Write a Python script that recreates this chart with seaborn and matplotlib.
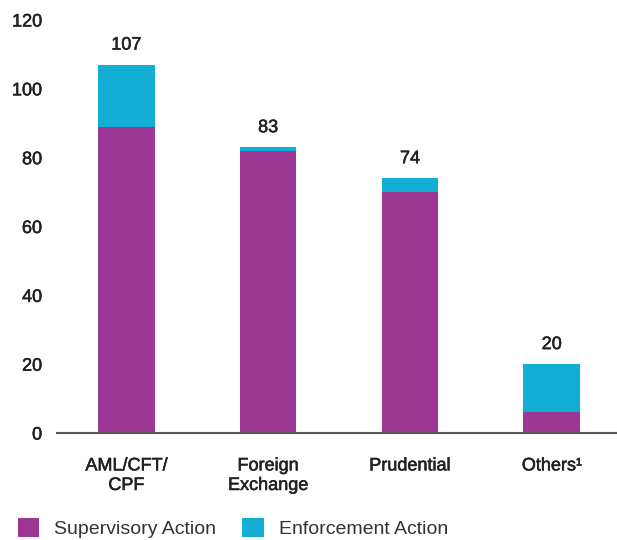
import matplotlib
matplotlib.use("Agg")
import matplotlib.pyplot as plt
import matplotlib.patheffects as pe
import seaborn as sns
import pandas as pd
from matplotlib.patches import Patch

categories = ["AML/CFT/\nCPF", "Foreign\nExchange", "Prudential", "Others\u00b9"]
supervisory = [89, 82, 70, 6]
enforcement = [18, 1, 4, 14]
totals = [s + e for s, e in zip(supervisory, enforcement)]
yticks = [0, 20, 40, 60, 80, 100, 120]

purple = "#9C3894"
cyan = "#12AED6"
txt = "#222222"

sns.set_theme(style="white")
plt.rcParams["font.family"] = ["Liberation Sans", "DejaVu Sans"]

medium = [pe.withStroke(linewidth=0.4, foreground=txt)]

df = pd.DataFrame({"category": categories, "supervisory": supervisory,
                   "enforcement": enforcement, "total": totals})

fig = plt.figure(figsize=(6.17, 5.4), dpi=100)
ax = fig.add_axes([0.092, 0.198, 0.908, 0.765])

sns.barplot(data=df, x="category", y="total", color=cyan, width=0.4,
            saturation=1, linewidth=0, ax=ax)
sns.barplot(data=df, x="category", y="supervisory", color=purple, width=0.4,
            saturation=1, linewidth=0, ax=ax)

for i, t in enumerate(totals):
    ax.text(i, t + 4.4, str(t), ha="center", va="baseline", fontsize=13,
            color=txt, path_effects=medium)

ax.set_ylim(0, 120)
ax.set_xlim(-0.49, 3.46)
ax.set_yticks(yticks)
ax.set_yticklabels([str(v) for v in yticks], fontsize=13, color=txt,
                   path_effects=medium)
ax.set_xticklabels(categories, fontsize=13, color=txt, linespacing=1.2,
                   path_effects=medium)
ax.set_xlabel("")
ax.set_ylabel("")
ax.tick_params(axis="y", length=0, pad=10.5)
ax.tick_params(axis="x", length=0, pad=17.5)
for s in ["top", "right", "left"]:
    ax.spines[s].set_visible(False)
ax.spines["bottom"].set_color("#555555")
ax.spines["bottom"].set_linewidth(1.5)
ax.grid(False)

handles = [Patch(facecolor=purple, edgecolor="none", label="Supervisory Action"),
           Patch(facecolor=cyan, edgecolor="none", label="Enforcement Action")]
fig.legend(handles=handles, loc="lower left", bbox_to_anchor=(0.0, -0.028),
           ncol=2, frameon=False, fontsize=14, handlelength=1.13,
           handleheight=1.13, handletextpad=0.77, columnspacing=1.3,
           labelcolor="#333333")

fig.savefig("out.png", dpi=100)
